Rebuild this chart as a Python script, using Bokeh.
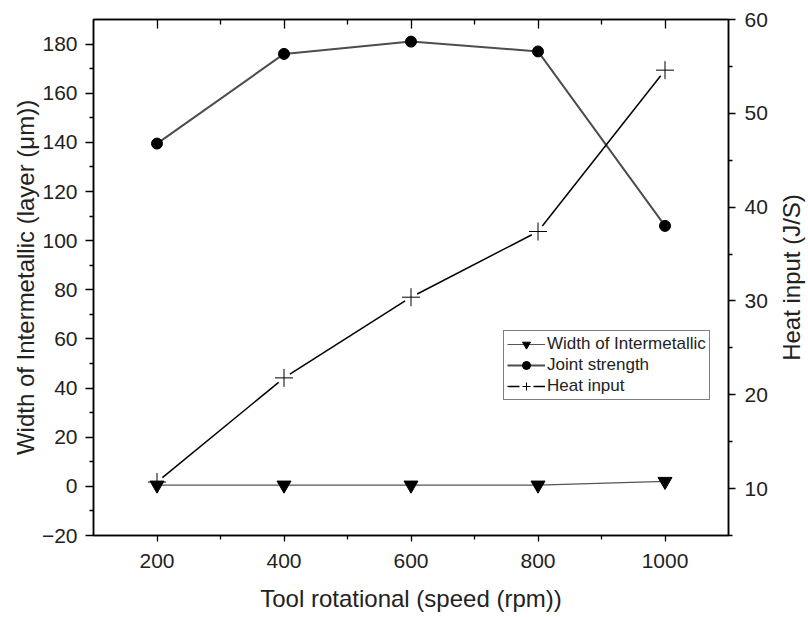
import math
from bokeh.plotting import figure
from bokeh.layouts import row
from bokeh.models import LinearAxis, Range1d, FixedTicker, Legend, LegendItem, ColumnDataSource, Label
from bokeh.embed import file_html
from bokeh.resources import INLINE

# ---- data ----
speed = [200, 400, 600, 800, 1000]
width_intermetallic = [0.5, 0.5, 0.5, 0.5, 2.0]
joint_strength = [139.5, 176, 181, 177, 106]
heat_input = [10.7, 21.8, 30.4, 37.4, 54.6]

x_major = [200, 400, 600, 800, 1000]
x_minor = [300, 500, 700, 900]
yl_major = [-20, 0, 20, 40, 60, 80, 100, 120, 140, 160, 180]
yl_minor = [-10, 10, 30, 50, 70, 90, 110, 130, 150, 170]
yr_major = [10, 20, 30, 40, 50, 60]
yr_minor = [5, 15, 25, 35, 45, 55]

FONT = "Liberation Sans"
TXT = "#222222"

W, H = 775, 617
BL, BR, BT, BB = 93, 47, 19, 82
FW, FH = W - BL - BR, H - BT - BB
W2 = 31  # strip holding the right-hand title

p = figure(width=W, height=H, x_range=Range1d(100, 1100), y_range=Range1d(-20, 190),
           output_backend="svg", toolbar_location=None,
           min_border_left=BL, min_border_right=BR, min_border_top=BT, min_border_bottom=BB)
p.extra_y_ranges = {"heat": Range1d(5, 60)}
p.xgrid.visible = False
p.ygrid.visible = False
p.outline_line_color = "black"
p.outline_line_width = 1.5
p.background_fill_color = "white"
p.border_fill_color = "white"

def style_axis(ax, major, minor, tin, tout, min_in, min_out):
    ax.ticker = FixedTicker(ticks=major, minor_ticks=minor)
    ax.major_tick_in = tin
    ax.major_tick_out = tout
    ax.minor_tick_in = min_in
    ax.minor_tick_out = min_out
    ax.axis_line_color = "black"
    ax.axis_line_width = 1.5
    ax.major_tick_line_color = "black"
    ax.minor_tick_line_color = "black"
    ax.major_tick_line_width = 1.3
    ax.minor_tick_line_width = 1.3
    ax.major_label_text_font = FONT
    ax.major_label_text_font_size = "21px"
    ax.major_label_text_color = TXT
    ax.axis_label_text_font = FONT
    ax.axis_label_text_font_size = "24px"
    ax.axis_label_text_font_style = "normal"
    ax.axis_label_text_color = TXT

xa = p.xaxis[0]
style_axis(xa, x_major, x_minor, 0, 6, 0, 4)
xa.axis_label = "Tool rotational (speed (rpm))"
xa.major_label_standoff = 12
xa.axis_label_standoff = 14

ya = p.yaxis[0]
style_axis(ya, yl_major, yl_minor, 0, 8, 0, 4)
ya.axis_label = "Width of Intermetallic (layer (\u03bcm))"
ya.major_label_standoff = 8
ya.axis_label_standoff = 0
ya.major_label_overrides = {v: str(v).replace("-", "\u2212") for v in yl_major if v < 0}

ra = LinearAxis(y_range_name="heat")
style_axis(ra, yr_major, yr_minor, 0, 7, 0, 4)
ra.major_label_standoff = 9
p.add_layout(ra, "right")

# top axis: inward ticks only, no labels
ta = LinearAxis()
style_axis(ta, x_major, x_minor, 9, 0, 5, 0)
ta.major_label_overrides = {v: "" for v in x_major}
ta.major_label_text_font_size = "0px"
ta.major_label_standoff = 0
p.add_layout(ta, "above")

# ---- series ----
src_w = ColumnDataSource(dict(x=speed, y=width_intermetallic))
src_j = ColumnDataSource(dict(x=speed, y=joint_strength))
src_h = ColumnDataSource(dict(x=speed, y=heat_input))

lw = p.line("x", "y", source=src_w, line_color="#555555", line_width=1.2)
mw = p.scatter("x", "y", source=src_w, marker="inverted_triangle", size=14,
               fill_color="black", line_color="black")

lj = p.line("x", "y", source=src_j, line_color="#4d4d4d", line_width=2)
mj = p.scatter("x", "y", source=src_j, marker="circle", size=11,
               fill_color="black", line_color="black")

# heat input line: segments stopping short of each symbol (gap to symbol)
hx_scale = FW / (p.x_range.end - p.x_range.start)
hy_scale = FH / (p.extra_y_ranges["heat"].end - p.extra_y_ranges["heat"].start)
gap = 7
x0s, y0s, x1s, y1s = [], [], [], []
for i in range(len(speed) - 1):
    dx = (speed[i + 1] - speed[i]) * hx_scale
    dy = (heat_input[i + 1] - heat_input[i]) * hy_scale
    L = math.hypot(dx, dy)
    fx, fy = gap * dx / L / hx_scale, gap * dy / L / hy_scale
    x0s.append(speed[i] + fx); y0s.append(heat_input[i] + fy)
    x1s.append(speed[i + 1] - fx); y1s.append(heat_input[i + 1] - fy)
p.segment(x0=x0s, y0=y0s, x1=x1s, y1=y1s, line_color="black", line_width=1.5,
          y_range_name="heat")
mh = p.scatter("x", "y", source=src_h, marker="cross", size=18, line_color="black",
               line_width=1, y_range_name="heat")
# legend-only dashed stroke for the heat input entry
nan = float("nan")
lh_leg = p.line(x=[nan, nan], y=[nan, nan], line_color="black", line_width=1.3,
                line_dash="12 14", y_range_name="heat")

legend = Legend(items=[
    LegendItem(label="Width of Intermetallic", renderers=[lw, mw]),
    LegendItem(label="Joint strength", renderers=[lj, mj]),
    LegendItem(label="Heat input", renderers=[lh_leg, mh]),
], location=(410, 135))
legend.label_text_font = FONT
legend.label_text_font_size = "17px"
legend.label_text_color = TXT
legend.label_height = 20
legend.label_standoff = 2
legend.glyph_height = 20
legend.glyph_width = 38
legend.spacing = 1
legend.padding = 3
legend.margin = 0
legend.border_line_color = "black"
legend.border_line_width = 1
legend.background_fill_alpha = 1
p.add_layout(legend, "center")

# ---- right-hand title strip (reads bottom to top) ----
p2 = figure(width=W2, height=H, x_range=Range1d(0, 1), y_range=Range1d(0, 1),
            output_backend="svg", toolbar_location=None,
            x_axis_location=None, y_axis_location=None,
            min_border_left=0, min_border_right=0, min_border_top=BT, min_border_bottom=BB)
p2.grid.visible = False
p2.outline_line_color = None
p2.background_fill_color = "white"
p2.border_fill_color = "white"
p2.add_layout(Label(x=0.5, y=0.5, text="Heat input (J/S)", angle=math.pi / 2,
                    text_align="center", text_baseline="middle",
                    text_font=FONT, text_font_size="24px", text_color=TXT))

layout = row(p, p2, spacing=0)
open("out.html", "w").write(file_html(layout, INLINE))
